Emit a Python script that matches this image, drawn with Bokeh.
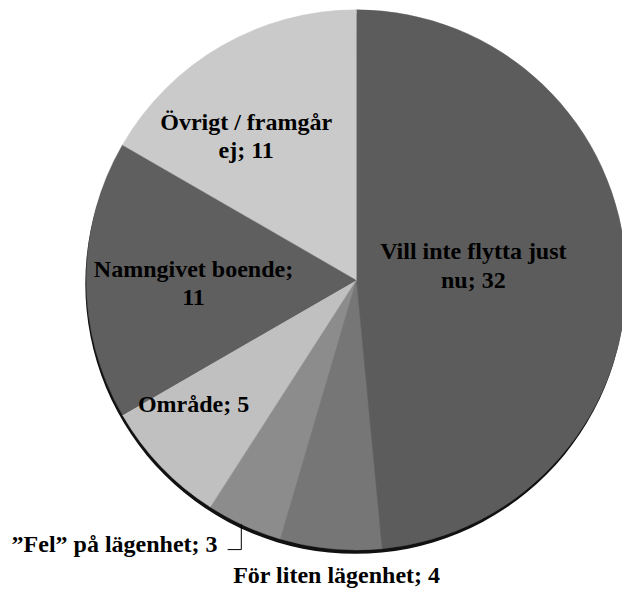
import numpy as np
from bokeh.plotting import figure
from bokeh.models import ColumnDataSource
from bokeh.core.properties import value
from bokeh.embed import file_html
from bokeh.resources import INLINE

# ---- data ----
categories = ["Vill inte flytta just nu", "För liten lägenhet", "\u201dFel\u201d på lägenhet",
              "Område", "Namngivet boende", "Övrigt / framgår ej"]
counts = [32, 4, 3, 5, 11, 11]
label_texts = ["Vill inte flytta just\nnu; 32", "För liten lägenhet; 4", "\u201dFel\u201d på lägenhet; 3",
               "Område; 5", "Namngivet boende;\n11", "Övrigt / framgår\nej; 11"]

# ---- styling / layout (reference-pixel coordinate space 638 x 606) ----
colors = ["#5c5c5c", "#767676", "#8c8c8c", "#c0c0c0", "#5f5f5f", "#cacaca"]
RW, RH = 638, 606
W, H = 622, 590
cx, cy, R = 365, RH - 287, 277
label_x = [485, 345, 117, 198, 198, 252]
label_y = [RH - 272, RH - 590, RH - 558, RH - 414, RH - 290, RH - 139]
leader_x = [233, 247, 247]
leader_y = [RH - 564, RH - 564, RH - 538]

total = float(sum(counts))
cum = np.concatenate([[0], np.cumsum(counts)])
start = [np.pi / 2 - 2 * np.pi * c / total for c in cum[:-1]]
end = [np.pi / 2 - 2 * np.pi * c / total for c in cum[1:]]

src = ColumnDataSource(dict(cat=categories, n=counts, start=start, end=end, color=colors))

p = figure(width=W, height=H, x_range=(0, RW), y_range=(0, RH),
           output_backend="svg", toolbar_location=None, min_border=0)
p.axis.visible = False
p.grid.visible = False
p.outline_line_color = None
p.background_fill_color = "white"

# dark rim (3D edge) below the pie
p.circle(x=[cx - 1], y=[cy - 4], radius=R, fill_color="#111111", line_color=None)

p.wedge(x=cx, y=cy, radius=R, start_angle="start", end_angle="end", direction="clock",
        fill_color="color", line_color="color", line_width=0.5, source=src)

lsrc = ColumnDataSource(dict(x=label_x, y=label_y, t=label_texts))
p.text(x="x", y="y", text="t", source=lsrc, text_align="center", text_baseline="middle",
       text_font=value("Liberation Serif"), text_font_style="bold",
       text_font_size="24px", text_line_height=1.1, text_color="black")

# leader line for the small slice label
p.line(x=leader_x, y=leader_y, line_color="black", line_width=1)

open("out.html", "w").write(file_html(p, INLINE))
